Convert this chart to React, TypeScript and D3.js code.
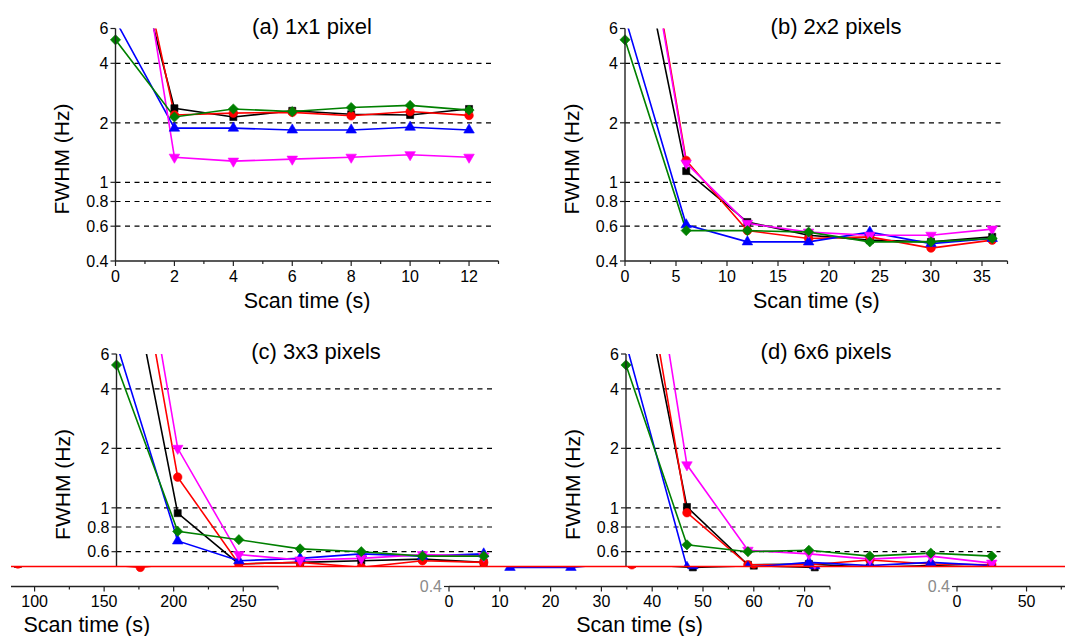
import React from 'react';
import * as d3 from 'd3';

const W = 1065;
const H = 636;

// ---------------- data ----------------
const yTicks = [0.4, 0.6, 0.8, 1, 2, 4, 6];
const yGrid = [0.6, 0.8, 1, 2, 4];

// (a) 1x1 pixel
const xA = [0, 2, 4, 6, 8, 10, 12];
const aBlack = [33.5, 2.37, 2.14, 2.3, 2.21, 2.19, 2.35];
const aRed = [53, 2.19, 2.24, 2.26, 2.17, 2.28, 2.18];
const aBlue = [6.6, 1.88, 1.88, 1.84, 1.84, 1.9, 1.84];
const aMagenta = [96, 1.34, 1.28, 1.31, 1.34, 1.38, 1.34];
const aGreen = [5.26, 2.14, 2.35, 2.28, 2.39, 2.45, 2.32];

// (b) 2x2 pixels
const xB = [0, 6, 12, 18, 24, 30, 36];
const bBlack = [37.6, 1.14, 0.63, 0.54, 0.51, 0.5, 0.53];
const bRed = [86, 1.29, 0.57, 0.52, 0.53, 0.465, 0.51];
const bBlue = [6.85, 0.61, 0.5, 0.5, 0.56, 0.49, 0.52];
const bMagenta = [80, 1.25, 0.62, 0.56, 0.54, 0.54, 0.58];
const bGreen = [5.26, 0.57, 0.57, 0.56, 0.5, 0.5, 0.52];

// (c) 3x3 pixels
const xC = [0, 44, 88, 132, 176, 220, 264];
const cBlack = [35.6, 0.94, 0.52, 0.53, 0.54, 0.55, 0.53];
const cRed = [79, 1.43, 0.52, 0.53, 0.5, 0.54, 0.53];
const cBlue = [6.8, 0.68, 0.54, 0.555, 0.585, 0.57, 0.585];
const cMagenta = [129, 2.0, 0.58, 0.545, 0.555, 0.58, 0.57];
const cGreen = [5.28, 0.76, 0.69, 0.62, 0.6, 0.57, 0.57];

// (d) 6x6 pixels
const xD = [0, 12, 24, 36, 48, 60, 72];
const dBlack = [36.5, 1.01, 0.515, 0.52, 0.5, 0.51, 0.5];
const dRed = [61, 0.945, 0.515, 0.515, 0.545, 0.52, 0.515];
const dBlue = [6.8, 0.5, 0.5, 0.53, 0.51, 0.53, 0.51];
const dMagenta = [142, 1.65, 0.61, 0.585, 0.55, 0.57, 0.525];
const dGreen = [5.28, 0.65, 0.6, 0.61, 0.57, 0.59, 0.57];

const titles = ['(a) 1x1 pixel', '(b) 2x2 pixels', '(c) 3x3 pixels', '(d) 6x6 pixels'];
const xDomains: [number, number][] = [[0, 13], [0, 37.5], [0, 275], [0, 75]];
const xMajorStep = [2, 5, 50, 10];
const xMinorStep = [1, 2.5, 25, 5];

// ---------------- styles / layout ----------------
const SERIES_STYLE = [
  { color: '#000000', sym: 'square' },
  { color: '#ff0000', sym: 'circle' },
  { color: '#0000ff', sym: 'up' },
  { color: '#ff00ff', sym: 'down' },
  { color: '#008000', sym: 'diamond' },
];

const FONT = "'Liberation Sans', Arial, Helvetica, sans-serif";

const LAYOUT = [
  { x0: 115.5, x1: 498.5, top: 28.5, bottom: 261, titleX: 312 },
  { x0: 625, x1: 1007.5, top: 28.5, bottom: 261, titleX: 836 },
  { x0: 116.5, x1: 499, top: 354, bottom: 586.5, titleX: 316 },
  { x0: 626, x1: 1007, top: 354, bottom: 586.5, titleX: 826 },
];

const PANEL_DATA = [
  { xs: xA, ys: [aBlack, aRed, aBlue, aMagenta, aGreen] },
  { xs: xB, ys: [bBlack, bRed, bBlue, bMagenta, bGreen] },
  { xs: xC, ys: [cBlack, cRed, cBlue, cMagenta, cGreen] },
  { xs: xD, ys: [dBlack, dRed, dBlue, dMagenta, dGreen] },
];

// the lower band of the picture is horizontally displaced
const STRIP_TOP = 566;
const STRIPS = [
  { panel: 2, shift: -221, vx0: 11, vx1: 353 },
  { panel: 3, shift: -177, vx0: 353, vx1: 860 },
  { panel: 2, shift: 840.5, vx0: 860, vx1: W },
];

function symbolPath(sym: string) {
  switch (sym) {
    case 'square':
      return { d: d3.symbol().type(d3.symbolSquare).size(50)() as string, rot: 0 };
    case 'circle':
      return { d: d3.symbol().type(d3.symbolCircle).size(58)() as string, rot: 0 };
    case 'up':
      return { d: d3.symbol().type(d3.symbolTriangle).size(48)() as string, rot: 0 };
    case 'down':
      return { d: d3.symbol().type(d3.symbolTriangle).size(48)() as string, rot: 180 };
    default:
      return { d: d3.symbol().type(d3.symbolSquare).size(52)() as string, rot: 45 };
  }
}

function fmt(v: number) {
  return v < 1 ? v.toFixed(1) : String(v);
}

type Mode = 'full' | 'top' | 'strip';

function Panel({
  idx,
  uid,
  mode,
  shift = 0,
  vx0 = 0,
  vx1 = W,
}: {
  idx: number;
  uid: string;
  mode: Mode;
  shift?: number;
  vx0?: number;
  vx1?: number;
}) {
  const L = LAYOUT[idx];
  const D = PANEL_DATA[idx];
  const x = d3.scaleLinear().domain(xDomains[idx]).range([L.x0, L.x1]);
  const y = d3.scaleLog().domain([0.4, 6]).range([L.bottom, L.top]);
  const [d0, d1] = xDomains[idx];
  const majors = d3.range(d0, d1 + 1e-9, xMajorStep[idx]);
  const minors = d3
    .range(d0, d1 + 1e-9, xMinorStep[idx])
    .filter((v) => Math.abs(v / xMajorStep[idx] - Math.round(v / xMajorStep[idx])) > 1e-6);
  const line = d3
    .line<[number, number]>()
    .x((p) => x(p[0]))
    .y((p) => y(p[1]));
  const clipId = `clip-${uid}-${idx}`;
  const gridEnd = L.x1 - 6.5;

  const showTextAt = (cx: number, cy: number, halfW: number) => {
    if (mode === 'full') return true;
    if (mode === 'top') return cy + 6 < STRIP_TOP;
    return cy - 6 > STRIP_TOP && cx + shift - halfW >= vx0 && cx + shift + halfW <= vx1;
  };
  const showTop = mode !== 'strip';
  const xLabelY = L.bottom + (mode === 'strip' ? 20 : 21);
  const axisLabelY = L.bottom + (mode === 'strip' ? 45 : 47);
  const stripGray = mode === 'strip' ? '#8a8a8a' : '#000';

  return (
    <g transform={shift ? `translate(${shift},0)` : undefined}>
      <defs>
        <clipPath id={clipId}>
          <rect x={L.x0} y={L.top} width={L.x1 - L.x0} height={L.bottom - L.top} />
        </clipPath>
      </defs>
      {showTop &&
        yGrid.map((v) => (
          <line
            key={`g${v}`}
            x1={L.x0}
            x2={gridEnd}
            y1={y(v)}
            y2={y(v)}
            stroke="#000"
            strokeWidth={1.2}
            strokeDasharray="5,4.5"
          />
        ))}
      <g clipPath={`url(#${clipId})`}>
        {D.ys.map((vals, si) => (
          <path
            key={`l${si}`}
            d={line(D.xs.map((xv, i) => [xv, vals[i]] as [number, number])) as string}
            fill="none"
            stroke={SERIES_STYLE[si].color}
            strokeWidth={1.6}
          />
        ))}
      </g>
      {D.ys.map((vals, si) => {
        const s = symbolPath(SERIES_STYLE[si].sym);
        return (
          <g key={`m${si}`}>
            {D.xs.map((xv, i) =>
              vals[i] <= 6 && vals[i] >= 0.4 ? (
                <path
                  key={i}
                  d={s.d}
                  transform={`translate(${x(xv)},${y(vals[i])}) rotate(${s.rot})`}
                  fill={SERIES_STYLE[si].color}
                  stroke={SERIES_STYLE[si].color}
                  strokeWidth={0.6}
                />
              ) : null
            )}
          </g>
        );
      })}
      {showTop && <line x1={L.x0} x2={L.x0} y1={L.top} y2={L.bottom} stroke="#222" strokeWidth={1.4} />}
      <line x1={L.x0} x2={L.x1} y1={L.bottom} y2={L.bottom} stroke="#222" strokeWidth={1.4} />
      {yTicks.map((v) => (
        <g key={`yt${v}`}>
          <line x1={L.x0 - 5} x2={L.x0} y1={y(v)} y2={y(v)} stroke="#222" strokeWidth={1.2} />
          {showTextAt(L.x0 - 18, y(v), 13) && (
            <text
              x={L.x0 - 7}
              y={y(v)}
              dy="0.36em"
              textAnchor="end"
              fontSize={16}
              fontFamily={FONT}
              fill={stripGray}
            >
              {fmt(v)}
            </text>
          )}
        </g>
      ))}
      {majors.map((v) => (
        <line key={`xt${v}`} x1={x(v)} x2={x(v)} y1={L.bottom} y2={L.bottom + 5} stroke="#222" strokeWidth={1.2} />
      ))}
      {minors.map((v) => (
        <line key={`xm${v}`} x1={x(v)} x2={x(v)} y1={L.bottom} y2={L.bottom + 3} stroke="#222" strokeWidth={1.2} />
      ))}
      {majors.map((v) =>
        showTextAt(x(v), xLabelY - 6, 14) ? (
          <text
            key={`xl${v}`}
            x={x(v)}
            y={xLabelY}
            textAnchor="middle"
            fontSize={16}
            fontFamily={FONT}
            fill="#000"
          >
            {v}
          </text>
        ) : null
      )}
      {showTextAt((L.x0 + L.x1) / 2, axisLabelY - 7, 60) && (
        <text
          x={(L.x0 + L.x1) / 2}
          y={axisLabelY}
          textAnchor="middle"
          fontSize={21.5}
          fontFamily={FONT}
          fill="#000"
        >
          Scan time (s)
        </text>
      )}
      {showTop && (
        <text
          transform={`translate(${L.x0 - 54},${L.top + 130.5}) rotate(-90)`}
          textAnchor="middle"
          dy="0.36em"
          fontSize={21}
          fontFamily={FONT}
          fill="#000"
        >
          FWHM (Hz)
        </text>
      )}
      {showTop && (
        <text x={L.titleX} y={L.top + 5} textAnchor="middle" fontSize={22} fontFamily={FONT} fill="#000">
          {titles[idx]}
        </text>
      )}
    </g>
  );
}

export default function App() {
  return (
    <svg
      width={W}
      height={H}
      viewBox={`0 0 ${W} ${H}`}
      style={{ position: 'absolute', left: 0, top: 0, display: 'block', background: '#fff' }}
    >
      <defs>
        <clipPath id="topPart">
          <rect x={0} y={0} width={W} height={STRIP_TOP} />
        </clipPath>
        {STRIPS.map((s, i) => (
          <clipPath id={`strip${i}`} key={i}>
            <rect x={s.vx0} y={STRIP_TOP} width={s.vx1 - s.vx0} height={H - STRIP_TOP} />
          </clipPath>
        ))}
      </defs>
      <rect x={0} y={0} width={W} height={H} fill="#fff" />
      <Panel idx={0} uid="main" mode="full" />
      <Panel idx={1} uid="main" mode="full" />
      <g clipPath="url(#topPart)">
        <Panel idx={2} uid="main" mode="top" />
        <Panel idx={3} uid="main" mode="top" />
      </g>
      {STRIPS.map((s, i) => (
        <g key={`s${i}`} clipPath={`url(#strip${i})`}>
          <Panel idx={s.panel} uid={`s${i}`} mode="strip" shift={s.shift} vx0={s.vx0} vx1={s.vx1} />
        </g>
      ))}
      <line x1={11} x2={W} y1={STRIP_TOP + 0.5} y2={STRIP_TOP + 0.5} stroke="#ff0000" strokeWidth={1.6} />
    </svg>
  );
}
